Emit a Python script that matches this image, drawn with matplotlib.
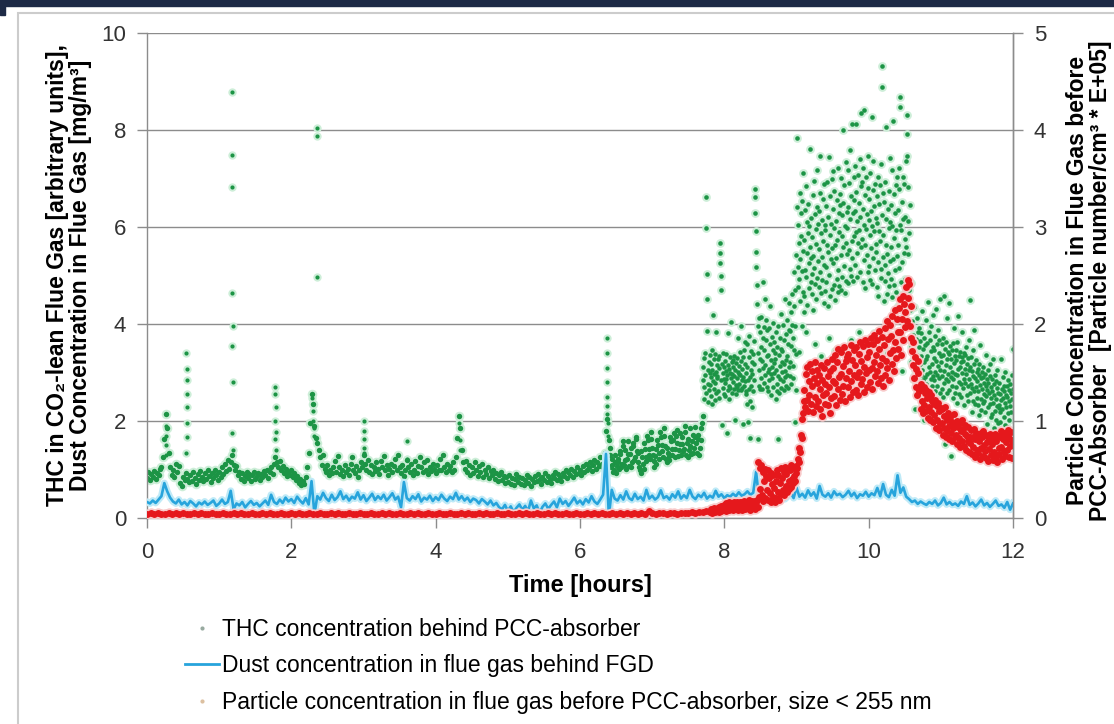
import numpy as np
import matplotlib
matplotlib.use('Agg')
from matplotlib import pyplot as plt
from matplotlib.lines import Line2D
from matplotlib.patches import Rectangle

plt.rcParams['font.family'] = ['Liberation Sans', 'DejaVu Sans']

# THC behind PCC absorber, 0.00 .. 7.70 h, one reading every 0.02 h
thc_early = [
    0.82, 0.95, 0.78, 0.90, 0.84, 0.97, 0.80, 0.92, 0.88, 1.02,
    1.05, 1.25, 1.62, 2.15, 1.85, 1.35, 1.05, 0.88, 1.00, 0.85,
    1.12, 0.95, 1.08, 0.72, 0.66, 0.85, 0.78, 0.93, 0.80, 0.74,
    0.88, 0.76, 0.95, 0.82, 0.70, 0.90, 0.79, 0.97, 0.84, 0.76,
    0.92, 0.80, 0.98, 0.86, 0.75, 0.93, 0.83, 1.00, 0.88, 0.79,
    0.95, 0.84, 1.05, 0.90, 1.12, 0.96, 1.20, 1.02, 1.15, 1.30,
    1.10, 0.98, 1.08, 0.88, 0.95, 0.80, 0.92, 0.76, 0.86, 0.94,
    0.82, 0.90, 0.76, 0.88, 0.95, 0.80, 0.86, 0.92, 0.78, 0.90,
    0.84, 0.96, 0.88, 1.00, 0.82, 0.94, 1.05, 0.90, 1.12, 1.25,
    1.15, 1.05, 1.18, 0.98, 1.08, 0.92, 1.02, 0.86, 0.95, 0.88,
    0.98, 0.84, 0.92, 0.78, 0.86, 0.72, 0.80, 0.68, 0.76, 0.70,
    0.85, 1.05, 1.35, 1.95, 2.55, 2.35, 1.90, 1.65, 1.55, 1.40,
    1.25, 1.10, 1.30, 1.02, 0.95, 1.10, 0.88, 1.00, 0.92, 1.05,
    1.18, 0.95, 1.28, 1.05, 0.90, 1.00, 0.86, 1.10, 0.95, 1.02,
    0.88, 1.12, 1.25, 1.00, 0.92, 1.08, 0.85, 0.98, 1.15, 1.05,
    1.30, 1.12, 1.00, 1.20, 0.95, 1.10, 0.90, 1.05, 0.96, 1.15,
    1.02, 0.90, 1.18, 1.05, 1.28, 0.98, 1.10, 0.88, 1.02, 1.12,
    0.95, 1.08, 1.22, 1.00, 1.30, 1.05, 0.92, 1.10, 0.86, 1.00,
    1.20, 1.05, 0.95, 1.12, 0.88, 1.00, 1.18, 0.92, 1.08, 1.25,
    1.05, 0.94, 1.15, 0.98, 1.20, 0.90, 1.05, 0.96, 1.12, 1.02,
    0.92, 1.10, 0.98, 1.22, 1.00, 1.30, 1.06, 0.95, 1.12, 1.00,
    1.08, 0.94, 1.15, 1.00, 1.25, 1.65, 2.10, 1.85, 1.40, 1.15,
    1.02, 1.18, 0.95, 1.10, 0.88, 1.05, 0.92, 1.15, 0.98, 0.86,
    1.08, 0.94, 1.12, 0.85, 1.00, 0.90, 1.05, 0.82, 0.96, 0.88,
    0.98, 0.80, 0.92, 0.76, 0.88, 0.95, 0.78, 0.86, 0.72, 0.84,
    0.75, 0.88, 0.70, 0.82, 0.68, 0.80, 0.90, 0.74, 0.85, 0.70,
    0.82, 0.68, 0.78, 0.88, 0.72, 0.84, 0.66, 0.80, 0.74, 0.86,
    0.76, 0.90, 0.80, 0.70, 0.85, 0.78, 0.92, 0.74, 0.86, 0.80,
    0.72, 0.88, 0.82, 0.95, 0.78, 0.90, 0.84, 0.76, 0.92, 0.86,
    0.98, 0.82, 0.94, 0.88, 1.02, 0.85, 0.96, 0.90, 1.05, 0.92,
    1.00, 0.88, 1.08, 0.95, 1.12, 0.98, 1.05, 1.15, 0.96, 1.10,
    1.20, 1.02, 1.15, 1.08, 1.25, 1.12, 1.05, 1.35, 1.80, 2.05,
    1.60, 1.30, 1.10, 0.95, 1.15, 0.92, 1.22, 1.02, 1.38, 1.12,
    1.58, 1.20, 1.02, 1.32, 1.08, 1.45, 1.15, 1.55, 1.25, 1.68,
    1.35, 1.05, 0.92, 1.25, 1.02, 1.42, 1.18, 1.60, 1.30, 1.78,
    1.45, 1.05, 1.28, 1.12, 1.50, 1.22, 1.68, 1.38, 1.85, 1.48,
    1.15, 1.35, 1.20, 1.58, 1.30, 1.75, 1.42, 1.82, 1.28, 1.52,
    1.30, 1.68, 1.42, 1.90, 1.55, 1.25, 1.48, 1.32, 1.72, 1.45,
    1.88, 1.35, 1.62, 1.45, 1.85, 2.10,
]

# the analyser ran at double rate from 6.41 h: extra readings, 6.41 .. 7.69 h every 0.02 h
thc_mid = [
    1.45, 1.05, 1.22, 0.98, 1.30, 1.08, 1.15, 1.32, 1.05, 1.48,
    1.10, 1.40, 1.22, 1.58, 1.32, 1.05, 1.48, 1.20, 1.62, 1.38,
    1.15, 1.00, 1.38, 1.12, 1.55, 1.25, 1.70, 1.42, 1.22, 1.62,
    1.30, 1.18, 1.42, 1.60, 1.35, 1.78, 1.50, 1.25, 1.70, 1.22,
    1.45, 1.28, 1.68, 1.42, 1.60, 1.25, 1.70, 1.55, 1.40, 1.75,
    1.52, 1.38, 1.78, 1.30, 1.62, 1.40, 1.85, 1.58, 1.35, 1.68,
    1.55, 1.72, 1.30, 1.60, 1.95,
]

# THC, 7.705 .. 12.000 h, one reading every 0.005 h
thc_late = [
    2.85, 3.12, 2.46, 3.30, 2.71, 2.95, 3.41, 2.58, 6.62, 5.98, 5.04, 4.52, 3.86, 2.77, 3.05, 2.39, 3.22, 2.64, 2.98, 3.36,
    2.74, 3.18, 2.52, 2.91, 3.47, 2.35, 3.06, 2.83, 4.18, 2.66, 3.28, 2.97, 2.44, 3.39, 2.79, 3.84, 3.01, 2.58, 3.15, 2.88,
    2.92, 3.27, 2.61, 3.09, 2.48, 3.35, 5.66, 5.46, 5.26, 4.98, 4.71, 2.84, 1.92, 3.18, 2.69, 2.99, 3.41, 2.56, 2.87, 3.12,
    2.78, 3.24, 2.51, 3.03, 2.86, 3.38, 1.76, 2.94, 2.63, 3.16, 3.82, 2.72, 3.07, 2.45, 2.99, 3.31, 2.68, 4.05, 2.89, 3.21,
    2.96, 2.58, 3.26, 2.81, 3.11, 2.67, 3.34, 2.93, 2.02, 3.05, 2.74, 3.19, 2.55, 2.88, 3.29, 2.71, 3.02, 3.72, 2.63, 2.97,
    3.14, 2.76, 3.42, 2.95, 2.64, 3.23, 3.96, 2.85, 3.08, 2.69, 1.94, 3.31, 2.91, 3.47, 2.73, 3.17, 2.82, 3.63, 2.98, 2.61,
    2.55, 3.12, 2.36, 3.58, 2.84, 1.98, 3.31, 2.67, 3.76, 2.42, 2.91, 1.64, 3.05, 2.73, 3.44, 2.28, 2.96, 3.22, 2.61, 3.38,
    3.18, 2.84, 3.65, 6.79, 6.61, 6.29, 5.91, 5.49, 5.18, 4.81, 4.42, 3.96, 1.62, 3.41, 2.73, 4.12, 3.05, 2.66, 3.84, 3.27,
    3.52, 2.88, 4.15, 3.24, 2.67, 3.71, 4.86, 3.09, 3.93, 2.79, 3.46, 4.51, 3.15, 2.94, 3.68, 4.08, 3.33, 2.71, 3.87, 3.02,
    3.36, 2.62, 3.91, 3.07, 2.84, 3.58, 4.38, 2.96, 3.25, 2.53, 3.74, 3.12, 2.89, 3.47, 4.02, 2.71, 3.19, 3.63, 2.98, 3.41,
    3.28, 2.45, 3.84, 3.06, 2.77, 3.52, 2.61, 3.95, 1.62, 2.93, 3.37, 2.58, 3.71, 3.14, 2.86, 3.49, 4.21, 2.69, 3.22, 3.01,
    3.44, 2.83, 3.97, 3.18, 2.64, 3.66, 4.52, 3.03, 2.91, 3.79, 3.26, 2.72, 4.08, 3.35, 2.95, 3.58, 2.68, 3.87, 3.12, 4.43,
    3.21, 3.86, 2.92, 4.25, 3.54, 2.76, 3.98, 4.62, 3.13, 3.72, 2.88, 4.37, 3.46, 5.08, 3.95, 4.71, 1.98, 2.64, 3.38, 5.42,
    7.83, 6.42, 5.18, 4.76, 6.05, 3.42, 5.67, 4.93, 6.71, 5.34, 4.48, 6.28, 5.82, 3.96, 5.09, 6.53, 4.67, 5.51, 7.12, 4.25,
    5.73, 4.58, 6.36, 5.12, 3.84, 6.84, 4.97, 5.46, 6.11, 4.39, 5.88, 3.12, 6.47, 5.25, 4.74, 6.02, 5.59, 7.61, 4.86, 5.37,
    6.18, 5.03, 4.62, 5.79, 6.65, 4.28, 5.41, 6.94, 5.16, 4.83, 3.58, 6.27, 5.64, 4.51, 5.95, 6.41, 4.95, 7.18, 5.29, 6.06,
    4.77, 6.32, 5.55, 7.46, 5.08, 6.71, 4.64, 5.87, 3.33, 6.15, 5.39, 4.91, 6.58, 5.71, 4.43, 6.89, 5.22, 6.04, 4.69, 5.93,
    6.43, 5.17, 4.86, 6.92, 5.62, 4.38, 6.21, 5.48, 7.45, 5.01, 3.71, 6.64, 5.84, 4.57, 6.07, 5.35, 4.72, 6.98, 5.56, 7.16,
    5.26, 6.37, 4.81, 5.98, 6.74, 4.49, 5.63, 3.44, 6.12, 5.37, 4.93, 6.56, 5.74, 4.66, 7.21, 5.12, 6.29, 4.78, 5.89, 6.45,
    6.68, 5.43, 4.71, 7.02, 5.81, 6.24, 4.96, 8.01, 5.58, 6.49, 3.52, 5.19, 6.86, 4.64, 6.03, 5.67, 7.34, 4.89, 6.31, 5.44,
    5.97, 7.18, 4.84, 6.42, 5.53, 6.91, 5.14, 7.58, 6.17, 4.99, 3.68, 6.63, 5.72, 8.12, 5.36, 6.28, 4.88, 7.04, 5.81, 6.55,
    6.34, 5.22, 7.26, 5.89, 6.73, 8.13, 5.46, 6.12, 4.97, 7.08, 5.68, 6.49, 3.84, 5.93, 7.41, 6.21, 5.07, 6.84, 5.59, 8.36,
    5.76, 6.92, 4.86, 6.38, 7.21, 5.31, 6.05, 8.42, 5.63, 4.74, 6.67, 5.95, 7.03, 3.62, 6.26, 5.42, 6.81, 5.08, 7.47, 6.14,
    6.57, 5.19, 7.12, 5.84, 4.91, 6.33, 5.56, 8.27, 6.02, 4.83, 6.76, 5.37, 7.36, 5.92, 3.81, 6.44, 5.11, 6.89, 5.65, 6.18,
    5.48, 6.63, 4.76, 6.09, 5.27, 7.04, 4.58, 5.91, 6.47, 3.64, 5.72, 6.86, 5.13, 7.29, 4.94, 9.31, 8.88, 6.24, 5.39, 6.71,
    5.84, 4.47, 6.52, 5.21, 6.93, 4.89, 5.63, 8.06, 6.17, 4.62, 5.45, 3.41, 6.38, 5.06, 6.74, 4.78, 5.97, 7.42, 5.29, 6.11,
    4.93, 6.46, 5.58, 7.17, 4.55, 6.02, 5.34, 8.18, 6.69, 4.81, 5.77, 3.28, 6.28, 5.12, 6.87, 4.67, 5.94, 7.03, 5.41, 6.35,
    5.62, 4.38, 6.79, 5.15, 7.21, 6.04, 8.69, 8.47, 4.86, 5.93, 3.04, 6.52, 5.28, 7.04, 4.61, 6.17, 5.47, 6.88, 4.29, 5.76,
    6.21, 4.93, 7.36, 5.58, 8.31, 7.92, 7.47, 6.83, 6.12, 5.44, 4.71, 3.96, 5.87, 4.28, 6.45, 3.52, 4.84, 3.21, 4.06, 3.63,
    3.42, 2.86, 3.77, 3.14, 4.36, 2.93, 3.58, 3.05, 2.24, 3.69, 3.26, 2.81, 4.12, 3.37, 2.97, 3.84, 3.11, 2.68, 3.53, 3.92,
    3.18, 2.72, 3.64, 2.95, 3.81, 3.33, 2.58, 4.27, 3.06, 2.84, 3.49, 2.03, 3.72, 3.21, 2.66, 3.57, 2.91, 4.08, 3.28, 2.77,
    3.61, 2.97, 3.35, 4.46, 2.69, 3.83, 3.12, 2.54, 3.68, 3.01, 2.21, 3.44, 2.86, 3.96, 3.17, 2.73, 3.52, 4.18, 2.92, 3.29,
    2.84, 3.47, 3.02, 3.76, 2.61, 4.31, 3.24, 2.95, 3.59, 2.72, 3.88, 3.13, 2.27, 3.41, 2.88, 3.67, 4.52, 3.06, 2.57, 3.34,
    3.21, 2.66, 3.58, 2.93, 3.72, 2.49, 3.36, 4.58, 3.04, 2.78, 3.49, 1.53, 3.15, 2.87, 3.63, 2.58, 3.27, 4.12, 2.96, 3.42,
    2.82, 3.38, 4.43, 2.64, 3.11, 3.54, 2.91, 3.27, 1.27, 2.73, 3.46, 3.02, 2.47, 3.61, 2.86, 3.19, 3.91, 2.58, 3.33, 2.97,
    3.26, 2.71, 3.47, 2.94, 2.38, 3.63, 3.08, 4.17, 2.81, 3.35, 2.56, 3.12, 1.98, 3.42, 2.76, 3.21, 2.49, 3.84, 2.99, 3.31,
    2.68, 3.24, 2.87, 3.41, 2.33, 3.07, 2.79, 3.36, 1.81, 2.96, 3.52, 2.54, 3.18, 2.72, 3.29, 2.41, 3.05, 3.67, 2.86, 4.49,
    3.12, 2.57, 3.31, 2.76, 2.19, 3.04, 2.68, 3.46, 2.41, 2.93, 3.88, 2.62, 3.17, 2.35, 2.89, 1.84, 3.26, 2.71, 3.02, 2.48,
    2.83, 2.34, 3.07, 2.61, 2.95, 2.12, 3.18, 2.74, 3.56, 2.46, 2.88, 2.23, 3.02, 2.67, 1.73, 2.91, 2.38, 3.11, 2.55, 2.79,
    2.42, 2.96, 2.18, 2.73, 3.37, 2.51, 2.87, 1.94, 2.64, 3.05, 2.29, 2.78, 1.63, 2.57, 2.93, 2.36, 3.18, 2.47, 2.71, 2.08,
    2.61, 2.14, 2.87, 2.38, 3.28, 1.86, 2.53, 2.76, 2.21, 2.94, 1.52, 2.45, 2.82, 2.03, 2.68, 2.31, 3.06, 1.95, 2.58, 2.26,
    2.34, 2.79, 1.97, 2.56, 2.18, 3.27, 2.43, 1.84, 2.67, 2.25, 2.91, 1.64, 2.48, 2.72, 2.09, 2.61, 2.37, 3.02, 1.91, 2.53,
    2.28, 2.73, 1.88, 2.49, 2.16, 2.85, 1.56, 2.41, 2.64, 2.02, 2.77, 2.31, 1.79, 2.58, 2.19, 2.94, 2.46, 1.72, 2.67, 3.48,
]

# short THC bursts logged between the regular readings
thc_burst_t = [
    0.26, 0.26, 0.27, 0.27,
    0.54, 0.55, 0.55, 0.56, 0.55, 0.56, 0.55, 0.54,
    1.18, 1.18, 1.18, 1.18, 1.19, 1.18, 1.19, 1.18, 1.19,
    1.78, 1.78, 1.79, 1.78, 1.79, 1.78, 1.79,
    2.29, 2.30, 2.30, 2.31, 2.32, 2.36, 2.36, 2.36,
    3.00, 3.00, 3.01, 3.00, 3.01,
    3.60, 3.60,
    4.33, 4.34, 4.34,
    6.37, 6.37, 6.37, 6.38, 6.37, 6.38, 6.38, 6.39, 6.39,
]
thc_burst_v = [
    1.90, 1.70, 1.50, 1.30,
    3.40, 3.08, 2.85, 2.55, 2.28, 1.95, 1.68, 1.35,
    8.79, 7.49, 6.82, 4.64, 3.95, 3.55, 2.80, 1.75, 1.40,
    2.70, 2.55, 2.28, 2.00, 1.78, 1.62, 1.40,
    2.48, 2.20, 2.00, 1.85, 1.70, 8.05, 7.88, 4.97,
    2.00, 1.80, 1.62, 1.45, 1.35,
    1.58, 1.22,
    1.95, 1.60, 1.40,
    3.72, 3.40, 3.10, 2.80, 2.50, 2.30, 2.15, 1.95, 1.70,
]

# dust behind FGD [mg/m3], every 0.04 h
dust = [
    0.33, 0.30, 0.36, 0.31, 0.38, 0.45, 0.72, 0.55, 0.42, 0.34,
    0.30, 0.38, 0.28, 0.33, 0.26, 0.35, 0.30, 0.24, 0.32, 0.28,
    0.34, 0.27, 0.31, 0.36, 0.25, 0.30, 0.38, 0.29, 0.33, 0.56,
    0.18, 0.30, 0.26, 0.33, 0.22, 0.29, 0.35, 0.27, 0.31, 0.24,
    0.30, 0.36, 0.27, 0.48, 0.33, 0.29, 0.38, 0.31, 0.42, 0.34,
    0.39, 0.31, 0.44, 0.36, 0.30, 0.41, 0.28, 0.76, 0.08, 0.45,
    0.38, 0.52, 0.41, 0.35, 0.48, 0.37, 0.43, 0.55, 0.39, 0.46,
    0.36, 0.44, 0.40, 0.53, 0.38, 0.47, 0.35, 0.42, 0.50, 0.37,
    0.45, 0.39, 0.48, 0.36, 0.43, 0.51, 0.38, 0.44, 0.22, 0.74,
    0.41, 0.36, 0.45, 0.39, 0.49, 0.34, 0.42, 0.38, 0.46, 0.35,
    0.43, 0.37, 0.48, 0.40, 0.35, 0.44, 0.39, 0.52, 0.38, 0.45,
    0.36, 0.42, 0.33, 0.40, 0.37, 0.30, 0.39, 0.34, 0.28, 0.36,
    0.26, 0.31, 0.22, 0.18, 0.27, 0.15, 0.24, 0.12, 0.21, 0.28,
    0.17, 0.25, 0.14, 0.36, 0.20, 0.26, 0.10, 0.23, 0.30, 0.19,
    0.27, 0.34, 0.22, 0.40, 0.29, 0.35, 0.25, 0.33, 0.42, 0.30,
    0.36, 0.28, 0.39, 0.32, 0.45, 0.34, 0.29, 0.38, 0.48, 1.32,
    0.04, 0.58, 0.40, 0.36, 0.47, 0.38, 0.55, 0.41, 0.37, 0.50,
    0.39, 0.44, 0.36, 0.58, 0.40, 0.46, 0.38, 0.43, 0.57, 0.41,
    0.45, 0.38, 0.49, 0.42, 0.55, 0.40, 0.47, 0.41, 0.58, 0.44,
    0.39, 0.48, 0.43, 0.52, 0.40, 0.46, 0.42, 0.56, 0.44, 0.49,
    0.41, 0.47, 0.44, 0.50, 0.45, 0.53, 0.46, 0.49, 0.55, 0.48,
    0.52, 0.95, 0.42, 0.38, 0.45, 0.40, 0.48, 0.36, 0.44, 0.41,
    0.47, 0.39, 0.45, 0.52, 0.41, 0.63, 0.44, 0.50, 0.42, 0.57,
    0.46, 0.53, 0.40, 0.66, 0.48, 0.44, 0.51, 0.42, 0.55, 0.47,
    0.50, 0.43, 0.48, 0.56, 0.45, 0.52, 0.41, 0.49, 0.46, 0.54,
    0.44, 0.51, 0.47, 0.62, 0.45, 0.70, 0.48, 0.43, 0.58, 0.46,
    0.88, 0.52, 0.63, 0.44, 0.39, 0.33, 0.36, 0.29, 0.34, 0.30,
    0.27, 0.33, 0.29, 0.36, 0.26, 0.31, 0.42, 0.28, 0.33, 0.27,
    0.30, 0.25, 0.34, 0.29, 0.45, 0.27, 0.32, 0.24, 0.30, 0.38,
    0.26, 0.31, 0.23, 0.29, 0.36, 0.25, 0.28, 0.21, 0.33, 0.17,
    0.30,
]

# particles < 255 nm before PCC absorber [1E+05 / cm3], every 0.05 h up to 7.80 h
pcc_early = [
    0.04, 0.05, 0.04, 0.05, 0.04, 0.04, 0.05, 0.04, 0.05, 0.04,
    0.05, 0.04, 0.04, 0.05, 0.04, 0.05, 0.04, 0.04, 0.05, 0.04,
    0.04, 0.05, 0.04, 0.04, 0.05, 0.04, 0.05, 0.04, 0.04, 0.05,
    0.04, 0.04, 0.05, 0.04, 0.05, 0.04, 0.04, 0.05, 0.04, 0.04,
    0.05, 0.04, 0.05, 0.04, 0.04, 0.05, 0.04, 0.04, 0.05, 0.04,
    0.04, 0.05, 0.04, 0.05, 0.04, 0.04, 0.05, 0.04, 0.04, 0.05,
    0.04, 0.04, 0.05, 0.04, 0.04, 0.05, 0.04, 0.05, 0.04, 0.04,
    0.05, 0.04, 0.04, 0.05, 0.04, 0.05, 0.04, 0.04, 0.05, 0.04,
    0.04, 0.05, 0.04, 0.04, 0.05, 0.04, 0.04, 0.05, 0.04, 0.05,
    0.04, 0.04, 0.05, 0.04, 0.05, 0.04, 0.04, 0.05, 0.04, 0.04,
    0.05, 0.04, 0.04, 0.05, 0.04, 0.05, 0.04, 0.04, 0.05, 0.04,
    0.04, 0.05, 0.04, 0.05, 0.04, 0.04, 0.05, 0.04, 0.04, 0.05,
    0.04, 0.04, 0.05, 0.04, 0.05, 0.04, 0.05, 0.04, 0.04, 0.05,
    0.04, 0.05, 0.04, 0.05, 0.04, 0.05, 0.04, 0.05, 0.04, 0.07,
    0.05, 0.04, 0.05, 0.05, 0.04, 0.05, 0.05, 0.04, 0.05, 0.05,
    0.05, 0.06, 0.05, 0.06, 0.06, 0.07, 0.06,
]

# particles, 7.81 .. 12.00 h, every 0.01 h
pcc_late = [
    0.06, 0.09, 0.05, 0.08, 0.07, 0.10, 0.06, 0.09, 0.07, 0.08,
    0.10, 0.06, 0.11, 0.08, 0.12, 0.07, 0.10, 0.09, 0.13, 0.08,
    0.12, 0.07, 0.15, 0.09, 0.13, 0.08, 0.16, 0.10, 0.14, 0.09,
    0.15, 0.08, 0.13, 0.17, 0.09, 0.14, 0.11, 0.16, 0.08, 0.13,
    0.10, 0.17, 0.12, 0.08, 0.16, 0.13, 0.18, 0.09, 0.15, 0.11,
    0.17, 0.10, 0.14, 0.19, 0.08, 0.16, 0.12, 0.18, 0.10, 0.15,
    0.12, 0.18, 0.09, 0.16, 0.19, 0.11, 0.58, 0.22, 0.52, 0.30,
    0.55, 0.24, 0.47, 0.18, 0.38, 0.51, 0.21, 0.43, 0.29, 0.49,
    0.19, 0.41, 0.26, 0.46, 0.16, 0.35, 0.22, 0.44, 0.31, 0.17,
    0.38, 0.21, 0.49, 0.27, 0.44, 0.19, 0.36, 0.52, 0.25, 0.41,
    0.29, 0.47, 0.24, 0.53, 0.33, 0.45, 0.27, 0.51, 0.38, 0.30,
    0.49, 0.32, 0.55, 0.40, 0.36, 0.52, 0.43, 0.38, 0.54, 0.46,
    0.52, 0.61, 0.58, 0.72, 0.68, 0.86, 0.82, 1.02, 1.08, 1.21,
    1.32, 1.14, 1.48, 1.22, 1.56, 1.10, 1.41, 1.27, 1.59, 1.18,
    1.36, 1.52, 1.09, 1.44, 1.25, 1.61, 1.15, 1.39, 1.53, 1.21,
    1.47, 1.12, 1.33, 1.58, 1.05, 1.42, 1.27, 1.55, 1.18, 1.38,
    1.29, 1.61, 1.16, 1.46, 1.35, 1.08, 1.52, 1.24, 1.64, 1.41,
    1.55, 1.26, 1.68, 1.39, 1.17, 1.61, 1.33, 1.74, 1.45, 1.22,
    1.48, 1.71, 1.28, 1.57, 1.36, 1.76, 1.21, 1.62, 1.44, 1.66,
    1.35, 1.69, 1.52, 1.25, 1.78, 1.41, 1.63, 1.30, 1.73, 1.47,
    1.58, 1.32, 1.76, 1.45, 1.27, 1.69, 1.51, 1.81, 1.38, 1.62,
    1.43, 1.77, 1.56, 1.30, 1.84, 1.49, 1.66, 1.35, 1.79, 1.53,
    1.71, 1.40, 1.86, 1.55, 1.33, 1.79, 1.61, 1.89, 1.46, 1.68,
    1.52, 1.83, 1.39, 1.74, 1.93, 1.58, 1.44, 1.87, 1.65, 1.36,
    1.78, 1.47, 1.96, 1.62, 2.03, 1.55, 1.85, 1.42, 1.99, 1.70,
    1.88, 1.59, 2.08, 1.73, 1.52, 2.14, 1.81, 1.65, 2.05, 1.92,
    1.74, 2.17, 1.92, 2.26, 1.68, 2.05, 2.29, 1.83, 2.21, 1.97,
    2.12, 2.38, 2.03, 2.45, 2.27, 2.41, 1.98, 2.19, 1.86, 1.72,
    1.58, 1.81, 1.44, 1.66, 1.35, 1.54, 1.27, 1.49, 1.62, 1.31,
    1.33, 1.12, 1.38, 1.21, 1.08, 1.35, 1.17, 1.29, 1.10, 1.32,
    1.24, 1.03, 1.30, 1.14, 1.01, 1.27, 1.09, 1.21, 0.99, 1.18,
    1.06, 1.22, 0.93, 1.15, 1.01, 1.19, 0.91, 1.10, 0.97, 1.13,
    0.98, 1.12, 0.86, 1.05, 0.93, 1.14, 0.84, 1.01, 0.90, 1.08,
    0.95, 0.81, 1.04, 0.88, 0.99, 0.79, 0.93, 1.07, 0.84, 0.97,
    0.86, 1.00, 0.76, 0.94, 0.82, 0.98, 0.73, 0.90, 1.01, 0.79,
    0.92, 0.74, 0.87, 0.96, 0.70, 0.85, 0.79, 0.94, 0.68, 0.83,
    0.77, 0.91, 0.66, 0.84, 0.73, 0.92, 0.63, 0.81, 0.88, 0.70,
    0.85, 0.67, 0.79, 0.61, 0.88, 0.72, 0.83, 0.64, 0.90, 0.75,
    0.69, 0.86, 0.62, 0.78, 0.59, 0.84, 0.71, 0.87, 0.65, 0.80,
    0.76, 0.60, 0.83, 0.68, 0.87, 0.63, 0.79, 0.58, 0.85, 0.72,
    0.66, 0.84, 0.73, 0.90, 0.61, 0.81, 0.69, 0.88, 0.64, 0.78,
    0.86, 0.70, 0.91, 0.63, 0.82, 0.74, 0.89, 0.62, 0.80, 0.76,
]

t_thc_early = np.arange(len(thc_early)) * 0.02
t_thc_mid = 6.41 + np.arange(len(thc_mid)) * 0.02
t_thc_late = 7.705 + np.arange(len(thc_late)) * 0.005
t_dust = np.arange(len(dust)) * 0.04
t_pcc_early = np.arange(len(pcc_early)) * 0.05
t_pcc_late = 7.81 + np.arange(len(pcc_late)) * 0.01

green = '#1c9445'
blue = '#27a4dc'
red = '#e5181c'
axis_grey = '#8c8c8c'

W, H = 1114, 724
fig = plt.figure(figsize=(W / 100, H / 100), dpi=100)
ax = fig.add_axes([147 / W, 1 - 518 / H, 866 / W, 485 / H])
ax2 = ax.twinx()

# THC points with their soft light halo; the slow 0.02 h readings get a larger dot
thc_sets = [(t_thc_early, thc_early, 3.9), (t_thc_mid, thc_mid, 3.9),
            (t_thc_late, thc_late, 3.3), (thc_burst_t, thc_burst_v, 3.0)]
for tt, vv, ms in thc_sets:
    ax.plot(tt, vv, ls='', marker='o', ms=ms + 3.0, mew=0, color='#cdeed8', zorder=1)
for tt, vv, ms in thc_sets:
    ax.plot(tt, vv, ls='', marker='o', ms=ms, mew=0, color=green, zorder=2)

ax.plot(t_dust, dust, color='#bfeaf7', lw=5, zorder=3, solid_joinstyle='round')
ax.plot(t_dust, dust, color=blue, lw=1.9, zorder=4)

# particle counts on the secondary axis
for tt, vv in [(t_pcc_early, pcc_early), (t_pcc_late, pcc_late)]:
    ax2.plot(tt, vv, ls='', marker='o', ms=7.5, mew=0, color='#f8c9c9', zorder=1)
for tt, vv in [(t_pcc_early, pcc_early), (t_pcc_late, pcc_late)]:
    ax2.plot(tt, vv, ls='', marker='o', ms=5.0, mew=0, color=red, zorder=2)

ax.set_xlim(0, 12)
ax.set_ylim(0, 10)
ax2.set_ylim(0, 5)
ax.set_xticks(range(0, 13, 2))
ax.set_yticks(range(0, 11, 2))
ax2.set_yticks(range(0, 6))

ax.grid(axis='y', color=axis_grey, lw=1.0)
ax.set_axisbelow(True)

for a in (ax, ax2):
    for s in a.spines.values():
        s.set_color(axis_grey)
        s.set_linewidth(1.0)
ax.spines['top'].set_visible(False)
for s in ('top', 'left', 'bottom'):
    ax2.spines[s].set_visible(False)

ax.tick_params(axis='y', direction='out', length=7, width=1, color=axis_grey,
               labelsize=16, labelcolor='#333333', pad=8)
ax.tick_params(axis='x', direction='out', length=7, width=1, color=axis_grey,
               labelsize=16, labelcolor='#333333', pad=10)
ax2.tick_params(axis='y', direction='out', length=7, width=1, color=axis_grey,
                labelsize=16, labelcolor='#333333', pad=8)

ax.set_xlabel('Time [hours]', fontsize=17, fontweight='bold', labelpad=8)
ax.set_ylabel('THC in CO\u2082-lean Flue Gas [arbitrary units],\n'
              'Dust Concentration in Flue Gas [mg/m\u00b3]',
              fontsize=16.5, fontweight='bold', linespacing=1.0)
ax.yaxis.set_label_coords(-0.064, 0.5)
ax2.set_ylabel('Particle Concentration in Flue Gas before\n'
               'PCC-Absorber  [Particle number/cm\u00b3 * E+05]',
               fontsize=16.5, fontweight='bold', linespacing=1.0)
ax2.yaxis.set_label_coords(1.061, 0.49)

handles = [
    Line2D([], [], ls='', marker='o', ms=3, mew=0, color='#98aaa0'),
    Line2D([], [], color=blue, lw=2),
    Line2D([], [], ls='', marker='o', ms=3, mew=0, color='#dcc0a0'),
]
labels = [
    'THC concentration behind PCC-absorber',
    'Dust concentration in flue gas behind FGD',
    'Particle concentration in flue gas before PCC-absorber, size < 255 nm',
]
fig.legend(handles, labels, loc='upper left', bbox_to_anchor=(185 / W, 1 - 618 / H),
           frameon=False, fontsize=16.5, handlelength=1.5, handletextpad=0.1,
           labelspacing=0.58, borderpad=0, borderaxespad=0)

# page framing: dark strip along the top and a light outline round the chart
fig.patches.extend([
    Rectangle((0, 1 - 6 / H), 1, 6 / H, transform=fig.transFigure,
              color='#1d2a46', zorder=5),
    Rectangle((0, 1 - 15 / H), 5 / W, 15 / H, transform=fig.transFigure,
              color='#1d2a46', zorder=5),
    Rectangle((18 / W, -0.01), 1.0, 1.01 - 13 / H, transform=fig.transFigure,
              fill=False, edgecolor='#cccccc', lw=1.5, zorder=4),
])

fig.savefig('out.png', dpi=100)
